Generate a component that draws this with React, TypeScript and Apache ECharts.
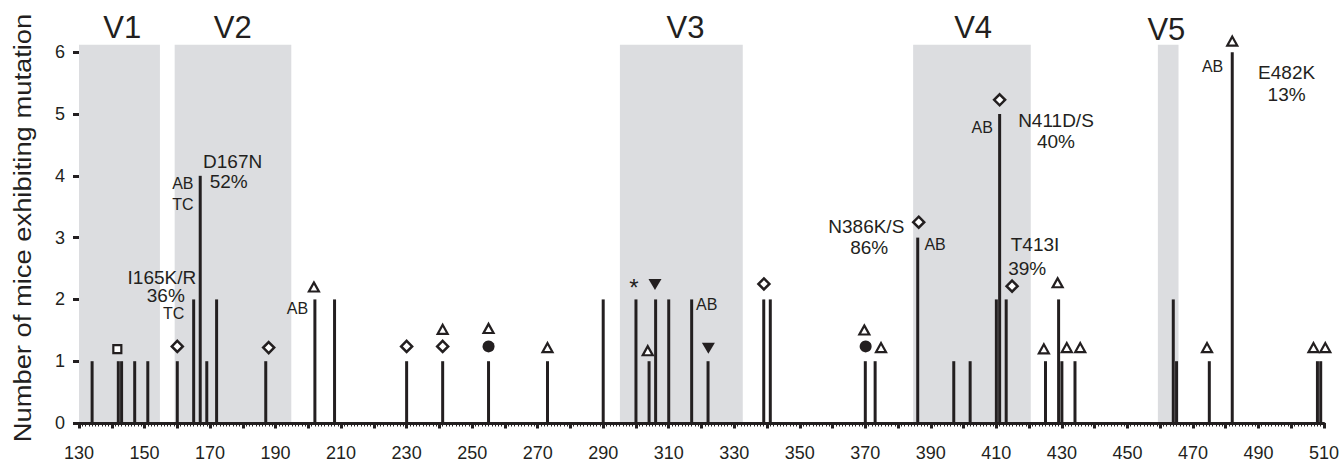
import React, { useEffect, useRef } from "react";
import * as echarts from "echarts";

const INK = "#231f20";
const SHADE = "#dcdde0";
const FONT = "'Liberation Sans', Arial, Helvetica, sans-serif";

// axis ticks
const xTickLabels = [130, 150, 170, 190, 210, 230, 250, 270, 290, 310, 330, 350, 370, 390, 410, 430, 450, 470, 490, 510];
const yTickValues = [0, 1, 2, 3, 4, 5, 6];

// residue position, number of mice exhibiting mutation
const mutationBars: [number, number][] = [
  [134, 1], [142, 1], [143, 1], [147, 1], [151, 1], [160, 1], [165, 2], [167, 4], [169, 1], [172, 2],
  [187, 1], [202, 2], [208, 2], [230, 1], [241, 1], [255, 1], [273, 1], [290, 2], [300, 2], [304, 1],
  [306, 2], [310, 2], [317, 2], [322, 1], [339, 2], [341, 2], [370, 1], [373, 1], [386, 3], [397, 1],
  [402, 1], [410, 2], [411, 5], [413, 2], [425, 1], [429, 2], [430, 1], [434, 1], [464, 2], [465, 1],
  [475, 1], [482, 6], [508, 1], [509, 1],
];

// variable loops: name, start, end
const variableLoops: [string, number, number][] = [
  ["V1", 129.3, 154.7],
  ["V2", 159.2, 194.8],
  ["V3", 295.1, 332.6],
  ["V4", 384.6, 420.5],
  ["V5", 459.3, 465.6],
];
const loopTop = 6.12;

// marker symbols
const openTriangles: [number, number][] = [
  [201.7, 2.2], [241, 1.515], [255, 1.53], [273, 1.22], [303.6, 1.17], [369.7, 1.505], [374.8, 1.22],
  [428.7, 2.27], [424.5, 1.2], [431.5, 1.22], [435.6, 1.22], [474.3, 1.22], [482, 6.18], [506.8, 1.22], [510.4, 1.22],
];
const openDiamonds: [number, number][] = [
  [160, 1.24], [187.9, 1.22], [230, 1.24], [241, 1.24], [339.05, 2.25], [386.3, 3.25], [411, 5.23], [414.8, 2.215],
];
const openSquares: [number, number][] = [[141.7, 1.195]];
const filledCircles: [number, number][] = [[255, 1.24], [370.1, 1.24]];
const filledDownTriangles: [number, number][] = [[305.8, 2.24], [322.1, 1.21]];
const asterisks: [number, number][] = [[299.4, 2.2]];

// text annotations: x, y, text
const loopLabels: [number, number, string][] = [
  [143.2, 6.4, "V1"], [176.9, 6.4, "V2"], [315.1, 6.4, "V3"], [402.9, 6.4, "V4"], [461.9, 6.36, "V5"],
];
const mutationLabels: [number, number, string][] = [
  [176.9, 4.23, "D167N"], [175.7, 3.91, "52%"],
  [155.3, 2.36, "I165K/R"], [156.5, 2.06, "36%"],
  [370.3, 3.18, "N386K/S"], [371.2, 2.84, "86%"],
  [428.2, 4.89, "N411D/S"], [428.2, 4.55, "40%"],
  [421.8, 2.89, "T413I"], [419.4, 2.5, "39%"],
  [498.6, 5.67, "E482K"], [498.6, 5.32, "13%"],
];
const groupLabels: [number, number, string][] = [
  [161.7, 3.88, "AB"], [161.7, 3.53, "TC"], [158.9, 1.78, "TC"], [196.7, 1.86, "AB"],
  [321.6, 1.91, "AB"], [391.3, 2.89, "AB"], [405.7, 4.79, "AB"], [476.0, 5.77, "AB"],
];

const yTitle = "Number of mice exhibiting mutation";

function labelSeries(items: [number, number, string][], fontSize: number) {
  return {
    type: "scatter",
    symbolSize: 0,
    silent: true,
    clip: false,
    z: 4,
    itemStyle: { opacity: 1 },
    data: items.map(([x, y, t]) => ({ value: [x, y], name: t })),
    label: {
      show: true,
      position: "inside",
      formatter: "{b}",
      fontSize,
      fontFamily: FONT,
      color: INK,
      opacity: 1,
    },
  };
}

function markerSeries(data: [number, number][], symbol: string, size: any, filled: boolean, rotate = 0, border = 2.2) {
  return {
    type: "scatter",
    symbol,
    symbolSize: size,
    symbolRotate: rotate,
    clip: false,
    silent: true,
    z: 4,
    data,
    itemStyle: filled
      ? { color: INK, borderWidth: 0, opacity: 1 }
      : { color: "#ffffff", borderColor: INK, borderWidth: border, opacity: 1 },
  };
}

export default function App() {
  const ref = useRef<HTMLDivElement>(null);
  useEffect(() => {
    if (!ref.current) return;
    const chart = echarts.init(ref.current, null, { renderer: "svg" });
    const option: any = {
      animation: false,
      textStyle: { fontFamily: FONT },
      grid: { left: 79, right: 15.5, top: 2.8, bottom: 34.7 },
      xAxis: [
        {
          type: "value", min: 130, max: 510, interval: 10, position: "bottom", z: 3,
          axisLine: { show: true, onZero: false, lineStyle: { color: INK, width: 3 } },
          axisTick: { show: false },
          axisLabel: { show: false },
          splitLine: { show: false },
          minorTick: { show: true, splitNumber: 10, length: 3.5, lineStyle: { color: INK, width: 1 } },
        },
        {
          type: "value", min: 130, max: 510, interval: 10, position: "bottom", offset: 5, z: 3,
          axisLine: { show: false },
          axisTick: { show: true, length: 5.5, lineStyle: { color: INK, width: 3 } },
          axisLabel: { show: true, customValues: xTickLabels, margin: 16, fontSize: 18, color: INK, fontFamily: FONT },
          splitLine: { show: false },
        },
      ],
      yAxis: {
        type: "value", min: 0, max: 6.8, interval: 1, z: 3,
        axisLine: { show: false },
        axisTick: { show: true, length: 6, customValues: yTickValues, lineStyle: { color: INK, width: 3 } },
        axisLabel: {
          customValues: yTickValues, margin: 14, fontSize: 18, color: INK, fontFamily: FONT,
          formatter: (v: number) => (Number.isInteger(v) ? String(v) : ""),
        },
        splitLine: { show: false },
      },
      graphic: [
        {
          type: "text",
          x: 23,
          y: 228,
          rotation: Math.PI / 2,
          scaleX: 1.14,
          style: { text: yTitle, fontSize: 24, fontFamily: FONT, fill: INK, align: "center", verticalAlign: "middle" },
        },
      ],
      series: [
        {
          type: "scatter",
          data: [],
          z: 1,
          silent: true,
          markArea: {
            silent: true,
            itemStyle: { color: SHADE, opacity: 1 },
            data: variableLoops.map(([, a, b]) => [{ xAxis: a, yAxis: 0 }, { xAxis: b, yAxis: loopTop }]),
          },
        },
        {
          type: "bar",
          data: mutationBars,
          barWidth: 3,
          z: 2,
          silent: true,
          itemStyle: { color: INK },
        },
        markerSeries(openTriangles, "triangle", [10, 9], false),
        markerSeries(openDiamonds, "diamond", [11, 11], false, 0, 2.5),
        markerSeries(openSquares, "rect", 8, false),
        markerSeries(filledCircles, "circle", 12, true),
        markerSeries(filledDownTriangles, "triangle", [13, 11], true, 180),
        {
          type: "scatter",
          symbolSize: 0,
          silent: true,
          clip: false,
          z: 4,
          itemStyle: { opacity: 1 },
          data: asterisks.map(([x, y]) => ({ value: [x, y], name: "*" })),
          label: { show: true, position: "inside", formatter: "{b}", fontSize: 24, fontFamily: FONT, color: INK, opacity: 1 },
        },
        labelSeries(loopLabels, 31),
        labelSeries(mutationLabels, 19),
        labelSeries(groupLabels, 16),
      ],
    };
    chart.setOption(option);
    return () => chart.dispose();
  }, []);
  return <div ref={ref} style={{ position: "absolute", left: 0, top: 0, width: 1342, height: 462 }} />;
}
